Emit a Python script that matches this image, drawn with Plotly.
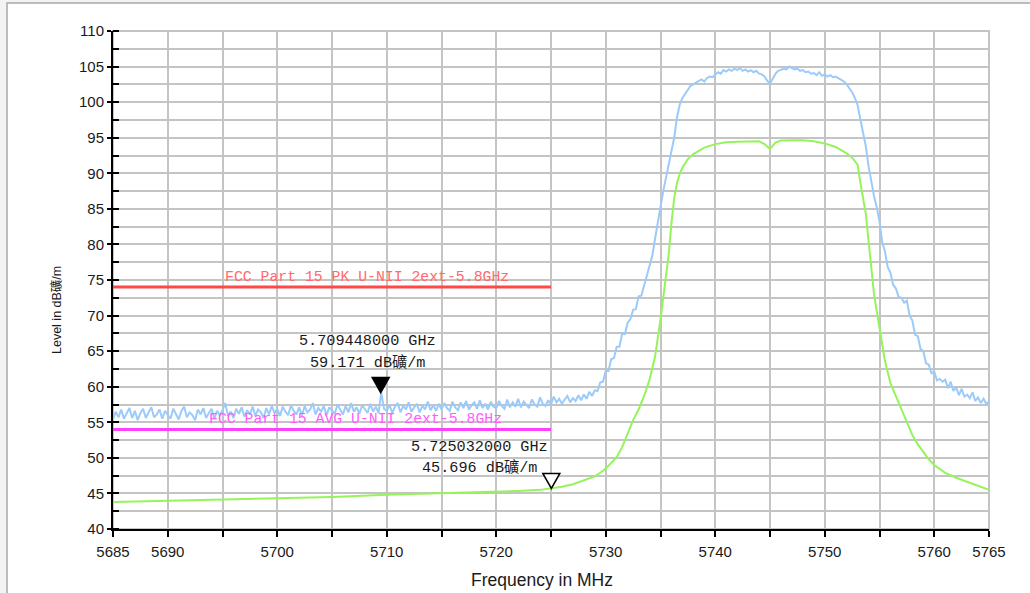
import numpy as np
import plotly.graph_objects as go

# ---- sweep data ---------------------------------------------------------
sweep_start_mhz = 5685.0
sweep_stop_mhz = 5765.0
sweep_points = 321
peak_freq_mhz = np.linspace(sweep_start_mhz, sweep_stop_mhz, sweep_points)

# Peak detector trace (dBuV/m), one value every 0.25 MHz
peak_level = [
    # 5685 - 5689.75
    55.4, 56.5, 55.7, 56.8, 55.5, 56.2, 57.0, 55.6, 56.6, 55.3, 56.3, 56.9, 55.6, 56.4, 57.1, 55.7, 56.1, 56.8, 55.5, 56.6,
    # 5690 - 5694.75
    56.0, 55.5, 56.9, 56.2, 55.4, 56.6, 57.2, 55.7, 56.4, 56.0, 55.3, 56.8, 56.1, 57.0, 55.6, 56.3, 56.9, 55.5, 56.6, 56.0,
    # 5695 - 5699.75
    56.7, 57.7, 55.9, 56.5, 55.6, 56.9, 56.2, 57.1, 55.8, 56.7, 56.1, 57.2, 55.9, 56.8, 56.4, 55.6, 57.0, 56.1, 57.3, 56.3,
    # 5700 - 5704.75
    56.9, 55.9, 57.2, 56.5, 56.0, 57.4, 56.6, 56.1, 57.1, 55.9, 57.3, 56.4, 56.8, 57.7, 56.1, 57.0, 56.5, 57.3, 56.0, 57.1,
    # 5705 - 5709.75
    56.7, 56.2, 57.5, 56.8, 56.1, 57.3, 56.4, 57.7, 56.5, 57.1, 56.2, 57.4, 56.8, 56.3, 57.6, 56.5, 57.2, 56.3, 59.171, 56.9,
    # 5710 - 5714.75
    56.6, 57.5, 56.3, 57.2, 57.7, 56.4, 57.3, 56.8, 57.8, 56.5, 57.1, 57.6, 56.4, 57.3, 56.8, 57.9, 56.7, 57.4, 56.6, 57.6,
    # 5715 - 5719.75
    56.8, 57.7, 57.0, 56.6, 57.9, 57.1, 56.7, 57.8, 57.0, 58.0, 56.8, 57.4, 57.8, 56.9, 58.1, 57.0, 57.6, 56.8, 57.9, 57.2,
    # 5720 - 5724.75
    57.0, 58.0, 57.3, 56.9, 58.2, 57.1, 57.8, 57.2, 58.3, 57.1, 57.9, 57.4, 57.0, 58.2, 57.5, 57.2, 58.5, 57.6, 57.3, 58.1,
    # 5725 - 5729.75
    57.5, 58.6, 57.8, 58.3, 57.6, 58.2, 58.7, 57.8, 58.4, 58.0, 58.8, 58.1, 58.9, 58.3, 59.3, 58.7, 59.5, 59.4, 60.6, 60.7,
    # 5730 - 5734.75
    62.3, 62.2, 63.9, 64.0, 65.6, 65.6, 67.5, 67.4, 69.0, 69.5, 70.8, 70.9, 72.7, 72.8, 74.2, 75.3, 76.9, 78.4, 80.8, 82.8,
    # 5735 - 5739.75
    85.3, 87.5, 89.3, 91.3, 93.0, 95.0, 97.8, 99.6, 100.6, 101.2, 101.8, 102.3, 102.5, 102.8, 103.0, 103.2, 102.9, 103.4, 103.6, 103.5,
    # 5740 - 5744.75
    103.9, 104.2, 104.0, 104.5, 104.3, 104.6, 104.4, 104.7, 104.5, 104.8, 104.4, 104.6, 104.3, 104.5, 104.2, 104.4, 104.0, 103.9, 103.6, 103.0,
    # 5745 - 5749.75
    102.6, 103.3, 104.0, 104.4, 104.5, 104.7, 104.6, 105.0, 104.8, 104.6, 104.7, 104.4, 104.5, 104.2, 104.3, 104.0, 104.1, 103.8, 104.2, 103.7,
    # 5750 - 5754.75
    103.9, 103.6, 103.8, 103.5, 103.6, 103.4, 103.2, 102.9, 102.5, 102.0, 101.4, 100.6, 99.6, 97.6, 95.7, 93.8, 91.0, 88.6, 86.8, 85.2,
    # 5755 - 5759.75
    83.2, 80.3, 79.0, 76.8, 76.0, 74.3, 73.8, 72.6, 72.5, 71.8, 72.1, 70.0, 69.3, 67.3, 67.1, 65.3, 65.0, 63.3, 63.1, 61.9,
    # 5760 - 5764.75
    62.1, 60.9, 61.1, 60.7, 61.0, 59.8, 60.7, 59.4, 59.9, 58.8, 59.7, 58.6, 58.9, 58.4, 59.2, 58.0, 58.5, 57.7, 58.3, 57.6,
    # 5765
    57.9,
]

# Average detector trace (dBuV/m)
avg_freq_mhz = [
    5685, 5690, 5695, 5700, 5705, 5710, 5715, 5720, 5722, 5724, 5725.032, 5726, 5727, 5728, 5729,
    5729.5, 5730, 5730.5, 5731, 5731.5, 5732, 5732.5, 5733, 5733.5, 5734, 5734.5, 5735, 5735.25,
    5735.5, 5735.75, 5736, 5736.25, 5736.5, 5736.75, 5737, 5737.5, 5738, 5738.5, 5739, 5740, 5741,
    5742, 5743, 5744, 5744.5, 5745, 5745.5, 5746, 5747, 5748, 5749, 5750, 5751, 5751.5, 5752,
    5752.5, 5753, 5753.25, 5753.5, 5753.75, 5754, 5754.25, 5754.5, 5754.75, 5755, 5755.25, 5755.5,
    5756, 5756.5, 5757, 5757.5, 5758, 5758.5, 5759, 5759.5, 5760, 5760.5, 5761, 5762, 5763, 5764, 5765,
]
avg_level = [
    43.8, 43.95, 44.1, 44.3, 44.5, 44.8, 45.0, 45.2, 45.35, 45.5, 45.696, 45.95, 46.3, 46.8, 47.4,
    47.9, 48.5, 49.3, 50.1, 51.5, 53.3, 55.3, 56.8, 58.7, 61.0, 64.2, 69.5, 72.8,
    75.5, 78.6, 83.0, 86.5, 88.6, 89.9, 90.8, 92.0, 92.7, 93.2, 93.6, 94.1, 94.35,
    94.45, 94.5, 94.5, 94.1, 93.4, 94.3, 94.6, 94.65, 94.65, 94.5, 94.2, 93.7, 93.3, 92.8,
    92.2, 91.2, 88.7, 86.5, 84.3, 80.5, 76.8, 73.0, 70.6, 68.2, 65.5, 63.6,
    60.5, 58.7, 56.8, 54.9, 53.2, 51.9, 50.8, 49.8, 49.0, 48.4, 47.9, 47.2, 46.6, 46.0, 45.5,
]

# Limit lines
limit_names = ["FCC Part 15 PK U-NII 2ext-5.8GHz", "FCC Part 15 AVG U-NII 2ext-5.8GHz"]
limit_levels = [74, 54]
limit_start_mhz = 5685
limit_stop_mhz = 5725

# Markers (filled = peak trace, open = average trace)
marker_freq_mhz = [5709.448, 5725.032]
marker_level = [59.171, 45.696]
level_unit = "dB礦/m"

# Axis ticks
x_tick_values = [5685, 5690, 5695, 5700, 5705, 5710, 5715, 5720, 5725, 5730, 5735, 5740, 5745, 5750, 5755, 5760, 5765]
x_tick_text = ["5685", "5690", "", "5700", "", "5710", "", "5720", "", "5730", "", "5740", "", "5750", "", "5760", "5765"]
y_tick_values = [40, 45, 50, 55, 60, 65, 70, 75, 80, 85, 90, 95, 100, 105, 110]

# ---- styling -------------------------------------------------------------
PEAK_COLOR = "#9ccbfa"
AVG_COLOR = "#96f35c"
LIMIT_LINE_COLORS = ["#ff4848", "#ff40ff"]
LIMIT_TEXT_COLORS = ["#ff6a6a", "#ff5cff"]
GRID = "#c4c4c4"
MONO = "Liberation Mono, Noto Sans CJK SC, monospace"
SANS = "Liberation Sans, Arial, sans-serif"

fig = go.Figure()

fig.add_trace(go.Scatter(x=peak_freq_mhz, y=peak_level, mode="lines",
                         line=dict(color=PEAK_COLOR, width=2), hoverinfo="skip"))
fig.add_trace(go.Scatter(x=avg_freq_mhz, y=avg_level, mode="lines",
                         line=dict(color=AVG_COLOR, width=2, shape="linear"), hoverinfo="skip"))

for lvl, col in zip(limit_levels, LIMIT_LINE_COLORS):
    fig.add_trace(go.Scatter(x=[limit_start_mhz, limit_stop_mhz], y=[lvl, lvl], mode="lines",
                             line=dict(color=col, width=3), hoverinfo="skip"))

annotations = []
limit_mid = (limit_start_mhz + limit_stop_mhz) / 2
for name, lvl, col, dx in zip(limit_names, limit_levels, LIMIT_TEXT_COLORS, [35, 23]):
    annotations.append(dict(x=limit_mid, y=lvl, xref="x", yref="y", text=name, showarrow=False,
                            xanchor="center", yanchor="middle", xshift=dx, yshift=10,
                            font=dict(family=MONO, size=14.8, color=col)))

shapes = []
marker_dx = [-13, -72]
marker_dy = [(52, 30), (41, 20)]
for i, (f, lvl) in enumerate(zip(marker_freq_mhz, marker_level)):
    filled = i == 0
    shapes.append(dict(type="path", xref="x", yref="y", xsizemode="pixel", ysizemode="pixel",
                       xanchor=f, yanchor=lvl, path="M-8.5,15 L8.5,15 L0,0 Z",
                       fillcolor="#000000" if filled else "#ffffff",
                       line=dict(color="#000000", width=1.5), layer="above"))
    lines = [f"{f / 1000:.9f} GHz", f"{lvl:.3f} {level_unit}"]
    for txt, dy in zip(lines, marker_dy[i]):
        annotations.append(dict(x=f, y=lvl, xref="x", yref="y", text=txt, showarrow=False,
                                xanchor="center", yanchor="middle", xshift=marker_dx[i], yshift=dy,
                                font=dict(family=MONO, size=15.2, color="#1a1a1a")))

# Axis titles
annotations.append(dict(x=0.5, y=0, xref="paper", yref="paper", text="Frequency in MHz",
                        showarrow=False, xanchor="center", yanchor="middle", xshift=-9, yshift=-51,
                        font=dict(family=SANS, size=17.5, color="#1a1a1a")))
annotations.append(dict(x=0, y=0.5, xref="paper", yref="paper", text="Level in " + level_unit,
                        showarrow=False, textangle=-90, xanchor="center", yanchor="middle",
                        xshift=-57, yshift=-30,
                        font=dict(family="Liberation Sans Narrow, " + SANS + ", Noto Sans CJK SC", size=12.5, color="#1a1a1a")))

# Outer frame and plot border
shapes.append(dict(type="rect", xref="paper", yref="paper", x0=-0.121, x1=1.06, y0=-0.15, y1=1.0562,
                   line=dict(color="#a8a8a8", width=1.5), fillcolor="#ffffff", layer="below"))
shapes.append(dict(type="rect", xref="paper", yref="paper", x0=0, x1=1, y0=0, y1=1,
                   line=dict(color=GRID, width=2), fillcolor="rgba(0,0,0,0)", layer="below"))

fig.update_layout(
    width=1030, height=593,
    margin=dict(l=113, r=41, t=31, b=64),
    paper_bgcolor="#f3f3f3", plot_bgcolor="#ffffff",
    showlegend=False,
    annotations=annotations, shapes=shapes,
    xaxis=dict(range=[sweep_start_mhz, sweep_stop_mhz], tickmode="array", tickvals=x_tick_values,
               ticktext=x_tick_text, showgrid=True, gridcolor=GRID, gridwidth=2,
               showline=True, linecolor="#000000", linewidth=2, ticks="outside", ticklen=6,
               tickwidth=2, tickcolor="#000000", zeroline=False, ticklabelstandoff=2,
               tickfont=dict(family=SANS, size=15, color="#1a1a1a")),
    yaxis=dict(range=[40, 110], tickmode="array", tickvals=y_tick_values,
               showgrid=True, gridcolor=GRID, gridwidth=2,
               showline=True, linecolor="#000000", linewidth=2, ticks="outside", ticklen=4,
               tickwidth=2, tickcolor="#000000", zeroline=False,
               minor=dict(dtick=2.5, tick0=40, showgrid=True, gridcolor=GRID, gridwidth=2,
                          ticks="inside", ticklen=6, tickwidth=2, tickcolor="#000000"),
               tickfont=dict(family=SANS, size=15, color="#1a1a1a")),
)

fig.write_html("out.html")
